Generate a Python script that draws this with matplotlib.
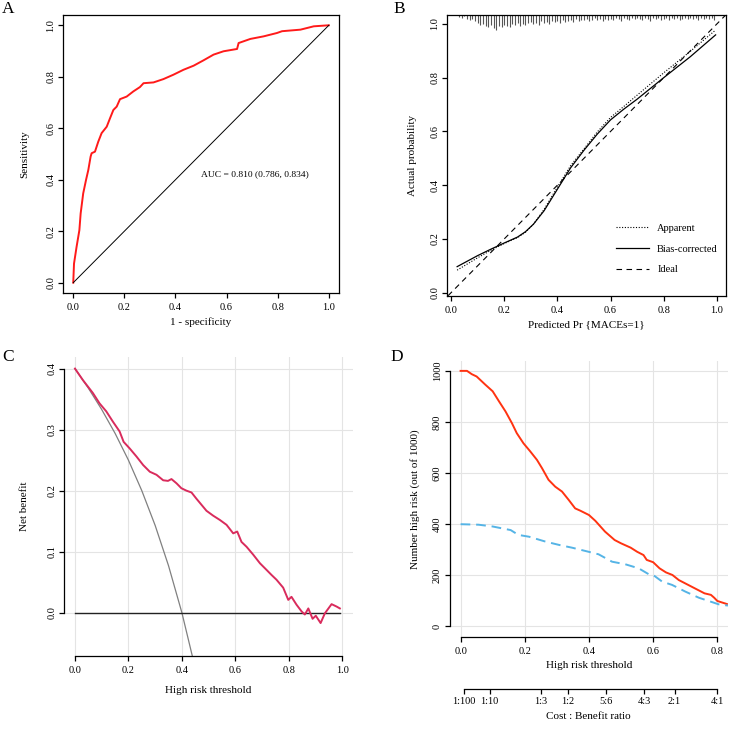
import numpy as np
import matplotlib
matplotlib.use("Agg")
import matplotlib.pyplot as plt

plt.rcParams['font.family'] = ['Liberation Serif', 'DejaVu Serif']
plt.rcParams['font.size'] = 7.5
plt.rcParams['axes.linewidth'] = 0.9
plt.rcParams['xtick.major.size'] = 3.8
plt.rcParams['ytick.major.size'] = 3.8
plt.rcParams['xtick.major.width'] = 0.9
plt.rcParams['ytick.major.width'] = 0.9
plt.rcParams['ytick.major.pad'] = 1.8

# ---- A: ROC ----
roc_fpr = [0, 0.003, 0.013, 0.024, 0.029, 0.039, 0.05, 0.059, 0.068, 0.072, 0.085, 0.098, 0.111,
           0.131, 0.144, 0.157, 0.17, 0.183, 0.209, 0.235, 0.261, 0.275, 0.314, 0.353, 0.392,
           0.431, 0.471, 0.51, 0.549, 0.588, 0.641, 0.647, 0.693, 0.745, 0.797, 0.817, 0.889,
           0.941, 1.0]
roc_tpr = [0, 0.074, 0.139, 0.204, 0.269, 0.347, 0.399, 0.438, 0.49, 0.503, 0.509, 0.548, 0.581,
           0.606, 0.639, 0.671, 0.684, 0.713, 0.723, 0.743, 0.76, 0.775, 0.778, 0.791, 0.808,
           0.827, 0.843, 0.864, 0.886, 0.899, 0.908, 0.931, 0.947, 0.957, 0.97, 0.977, 0.983,
           0.996, 1.0]
auc_text = "AUC = 0.810 (0.786, 0.834)"

# ---- B: calibration ----
cal_x = [0.023, 0.1, 0.15, 0.2, 0.25, 0.28, 0.31, 0.35, 0.4, 0.45, 0.5, 0.55, 0.6, 0.65, 0.7,
         0.8, 0.9, 0.995]
cal_apparent = [0.084, 0.13, 0.158, 0.183, 0.205, 0.225, 0.255, 0.31, 0.393, 0.473, 0.535,
                0.598, 0.652, 0.693, 0.735, 0.818, 0.898, 0.977]
cal_bias = [0.097, 0.138, 0.162, 0.185, 0.207, 0.227, 0.255, 0.305, 0.385, 0.465, 0.53, 0.59,
            0.643, 0.683, 0.72, 0.80, 0.878, 0.959]
rug_x = np.round(np.arange(0.03, 1.0, 0.01), 2)
rug_h = [2, 3, 1, 4, 5, 4, 6,
         8, 10, 9, 11, 12, 10, 13, 15, 11, 12,
         10, 11, 12, 9, 10, 8, 11, 9, 10, 8,
         7, 9, 8, 10, 6, 8, 7, 9, 6, 7,
         6, 8, 5, 7, 6, 5, 7, 4, 6, 5,
         5, 4, 6, 5, 3, 5, 4, 6, 4, 5,
         4, 5, 3, 4, 6, 3, 4, 5, 3, 4,
         3, 4, 5, 3, 4, 6, 3, 4, 3, 5,
         4, 3, 5, 3, 4, 3, 5, 4, 3, 4,
         3, 4, 3, 5, 3, 4, 3, 4, 3, 5]

# ---- C: decision curve ----
dca_thr = [0, 0.03, 0.067, 0.092, 0.117, 0.142, 0.167, 0.182, 0.205, 0.23, 0.255, 0.28, 0.305,
           0.33, 0.348, 0.361, 0.38, 0.398, 0.417, 0.436, 0.454, 0.473, 0.492, 0.517, 0.542,
           0.567, 0.592, 0.607, 0.623, 0.642, 0.667, 0.692, 0.717, 0.735, 0.754, 0.779, 0.798,
           0.81, 0.829, 0.848, 0.86, 0.873, 0.889, 0.901, 0.919, 0.935, 0.96, 0.979, 0.991]
dca_model = [0.4, 0.381, 0.36, 0.343, 0.33, 0.313, 0.297, 0.28, 0.269, 0.256, 0.242, 0.231, 0.226,
             0.217, 0.216, 0.219, 0.212, 0.204, 0.2, 0.197, 0.187, 0.177, 0.167, 0.159, 0.152,
             0.144, 0.13, 0.133, 0.116, 0.108, 0.095, 0.081, 0.07, 0.062, 0.054, 0.041, 0.021,
             0.026, 0.013, 0.002, -0.003, 0.007, -0.01, -0.005, -0.017, -0.001, 0.014, 0.01, 0.007]
all_thr = [0, 0.05, 0.1, 0.15, 0.2, 0.25, 0.3, 0.35, 0.4, 0.45]
all_nb = [0.4, 0.368, 0.333, 0.294, 0.25, 0.2, 0.143, 0.077, 0.0, -0.091]

# ---- D: clinical impact ----
ci_thr = [0, 0.02, 0.035, 0.05, 0.077, 0.1, 0.12, 0.14, 0.16, 0.175, 0.196, 0.216, 0.238, 0.254,
          0.274, 0.295, 0.316, 0.337, 0.357, 0.373, 0.4, 0.42, 0.45, 0.48, 0.5, 0.53, 0.55,
          0.57, 0.58, 0.6, 0.62, 0.64, 0.66, 0.68, 0.7, 0.72, 0.74, 0.76, 0.78, 0.79, 0.8, 0.83]
ci_high = [1000, 1000, 987, 978, 946, 920, 880, 841, 795, 756, 716, 686, 651, 618, 573, 546,
           527, 494, 461, 452, 435, 412, 370, 337, 324, 307, 291, 278, 259, 250, 226, 210,
           200, 180, 167, 154, 141, 128, 122, 111, 98, 86]
ev_thr = [0, 0.056, 0.1, 0.156, 0.18, 0.213, 0.264, 0.306, 0.347, 0.389, 0.43, 0.472, 0.513,
          0.555, 0.586, 0.6, 0.628, 0.659, 0.7, 0.742, 0.773, 0.804, 0.833]
ev_high = [399, 397, 390, 376, 357, 350, 331, 318, 307, 294, 281, 252, 242, 226, 203, 200, 174,
           161, 135, 111, 98, 85, 80]
cb_ticks = [1 / 101, 1 / 11, 0.25, 1 / 3, 5 / 11, 4 / 7, 2 / 3, 0.8]
cb_labels = ["1:100", "1:10", "1:3", "1:2", "5:6", "4:3", "2:1", "4:1"]

fig = plt.figure(figsize=(7.44, 7.31), dpi=100)

# A
axA = fig.add_axes([0.0847, 0.5992, 0.371, 0.3803])
axA.plot(roc_fpr, roc_tpr, color='#FF1A1A', lw=1.4)
axA.plot([0, 1], [0, 1], color='black', lw=0.7)
axA.set_xlim(-0.04, 1.04)
axA.set_ylim(-0.04, 1.04)
axA.set_xticks([0, 0.2, 0.4, 0.6, 0.8, 1.0])
axA.set_yticks([0, 0.2, 0.4, 0.6, 0.8, 1.0])
axA.set_xticklabels(["0.0", "0.2", "0.4", "0.6", "0.8", "1.0"])
axA.set_yticklabels(["0.0", "0.2", "0.4", "0.6", "0.8", "1.0"], rotation=90, va='center')
axA.set_xlabel("1 - specificity", fontsize=8)
axA.set_ylabel("Sensitivity", fontsize=8, labelpad=12)
axA.text(0.5, 0.42, auc_text, fontsize=6.8, ha='left', va='center')
fig.text(0.003, 1 - 13 / 731, "A", fontsize=12.5, va='baseline')

# B
axB = fig.add_axes([0.6012, 0.5955, 0.3746, 0.384])
axB.set_xlim(-0.014, 1.034)
axB.set_ylim(-0.011, 1.033)
axB.axline((0, 0), (1, 1), color='black', lw=0.8, ls=(0, (5, 4)), label="Ideal")
axB.plot(cal_x, cal_apparent, color='black', lw=0.8, ls=(0, (1, 1.5)), label="Apparent")
axB.plot(cal_x, cal_bias, color='black', lw=0.9, label="Bias-corrected")
top = 1.033
axB.vlines(rug_x, top - np.array(rug_h) * 0.0036, top, color='#555555', lw=0.8)
axB.set_xticks([0, 0.2, 0.4, 0.6, 0.8, 1.0])
axB.set_yticks([0, 0.2, 0.4, 0.6, 0.8, 1.0])
axB.set_xticklabels(["0.0", "0.2", "0.4", "0.6", "0.8", "1.0"])
axB.set_yticklabels(["0.0", "0.2", "0.4", "0.6", "0.8", "1.0"], rotation=90, va='center')
axB.set_xlabel("Predicted Pr {MACEs=1}", fontsize=8)
axB.set_ylabel("Actual probability", fontsize=8, labelpad=9.5)
h, l = axB.get_legend_handles_labels()
axB.legend([h[1], h[2], h[0]], [l[1], l[2], l[0]], loc='upper left',
           bbox_to_anchor=(0.57, 0.29), frameon=False, handlelength=3.2,
           labelspacing=1.1, fontsize=7.5)
fig.text(393 / 744, 1 - 13 / 731, "B", fontsize=12.5, va='baseline')

# C
axC = fig.add_axes([0.0864, 0.103, 0.388, 0.4086])
axC.set_xlim(-0.04, 1.04)
axC.set_ylim(-0.0705, 0.419)
for v in [0, 0.2, 0.4, 0.6, 0.8, 1.0]:
    axC.axvline(v, color='#E4E4E4', lw=0.8, zorder=0)
for v in [0, 0.1, 0.2, 0.3, 0.4]:
    axC.axhline(v, color='#E4E4E4', lw=0.8, zorder=0)
axC.plot(all_thr, all_nb, color='#808080', lw=0.9)
axC.plot([0, 0.99], [0, 0], color='#222222', lw=1.0)
axC.plot(dca_thr, dca_model, color='#D92B5C', lw=1.4)
for s in ['top', 'right']:
    axC.spines[s].set_visible(False)
axC.spines['left'].set_bounds(0, 0.4)
axC.spines['bottom'].set_bounds(0, 1.0)
axC.set_xticks([0, 0.2, 0.4, 0.6, 0.8, 1.0])
axC.set_yticks([0, 0.1, 0.2, 0.3, 0.4])
axC.set_xticklabels(["0.0", "0.2", "0.4", "0.6", "0.8", "1.0"])
axC.set_yticklabels(["0.0", "0.1", "0.2", "0.3", "0.4"], rotation=90, va='center')
axC.set_xlabel("High risk threshold", fontsize=8, labelpad=8)
axC.set_ylabel("Net benefit", fontsize=8, labelpad=13)
fig.text(0.003, 1 - 361 / 731, "C", fontsize=12.5, va='baseline')

# D
axD = fig.add_axes([0.6044, 0.129, 0.374, 0.3776])
axD.set_xlim(-0.034, 0.833)
axD.set_ylim(-42, 1040)
for v in [0, 0.2, 0.4, 0.6, 0.8]:
    axD.axvline(v, color='#E4E4E4', lw=0.8, zorder=0)
for v in [0, 200, 400, 600, 800, 1000]:
    axD.axhline(v, color='#E4E4E4', lw=0.8, zorder=0)
axD.plot(ci_thr, ci_high, color='#FF3311', lw=1.4)
axD.plot(ev_thr, ev_high, color='#55B4E6', lw=1.4, ls=(0, (5, 3)))
for s in ['top', 'right']:
    axD.spines[s].set_visible(False)
axD.spines['left'].set_bounds(0, 1000)
axD.spines['bottom'].set_bounds(0, 0.8)
axD.set_xticks([0, 0.2, 0.4, 0.6, 0.8])
axD.set_yticks([0, 200, 400, 600, 800, 1000])
axD.set_xticklabels(["0.0", "0.2", "0.4", "0.6", "0.8"])
axD.set_yticklabels(["0", "200", "400", "600", "800", "1000"], rotation=90, va='center')
axD.set_xlabel("High risk threshold", fontsize=8, labelpad=4)
axD.set_ylabel("Number high risk (out of 1000)", fontsize=8, labelpad=9)
sec = axD.secondary_xaxis(-0.19)
sec.set_xticks(cb_ticks)
sec.set_xticklabels(cb_labels)
sec.tick_params(pad=2)
sec.spines['bottom'].set_bounds(cb_ticks[0], cb_ticks[-1])
sec.set_xlabel("Cost : Benefit ratio", fontsize=8, labelpad=4)
fig.text(390 / 744, 1 - 361 / 731, "D", fontsize=12.5, va='baseline')

fig.savefig("out.png", dpi=100)
